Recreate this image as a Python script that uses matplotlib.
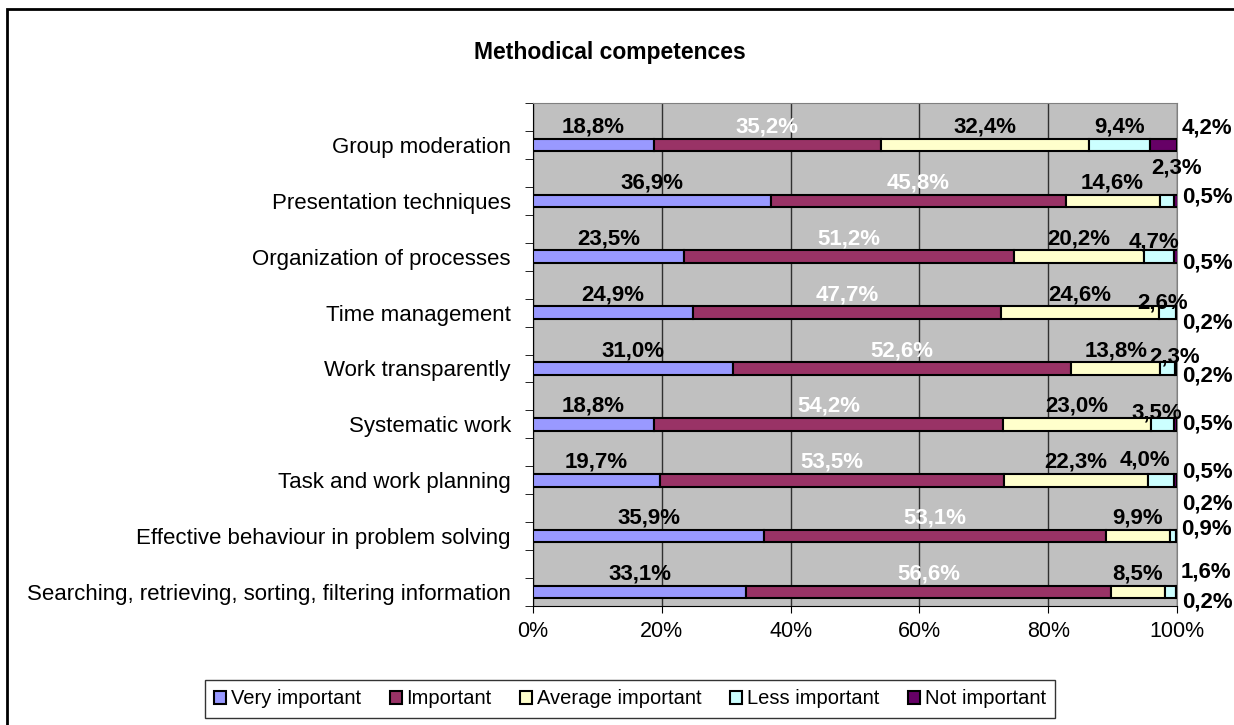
import numpy as np
import matplotlib
matplotlib.use("Agg")
from matplotlib import pyplot as plt
from matplotlib.patches import Rectangle, Patch

plt.rcParams['font.family'] = ['Liberation Sans', 'DejaVu Sans']

#data (percent of answers), rows from top to bottom
categories = ['Group moderation', 'Presentation techniques', 'Organization of processes',
              'Time management', 'Work transparently', 'Systematic work',
              'Task and work planning', 'Effective behaviour in problem solving',
              'Searching, retrieving, sorting, filtering information']
series = ['Very important', 'Important', 'Average important', 'Less important', 'Not important']
very_important = [18.8, 36.9, 23.5, 24.9, 31.0, 18.8, 19.7, 35.9, 33.1]
important = [35.2, 45.8, 51.2, 47.7, 52.6, 54.2, 53.5, 53.1, 56.6]
average_important = [32.4, 14.6, 20.2, 24.6, 13.8, 23.0, 22.3, 9.9, 8.5]
less_important = [9.4, 2.3, 4.7, 2.6, 2.3, 3.5, 4.0, 0.9, 1.6]
not_important = [4.2, 0.5, 0.5, 0.2, 0.2, 0.5, 0.5, 0.2, 0.2]
xticks = [0, 20, 40, 60, 80, 100]

colors = ['#9999FF', '#993366', '#FFFFCC', '#CCFFFF', '#660066']
label_colors = ['black', 'white', 'black', 'black', 'black']

#where the small labels were dragged to in the sheet (x in %, y offset in rows above bar)
less_x = [None, 100, 96.5, 97.8, 99.6, 96.8, 95, 104.5, 104.5]
less_dy = [0.32, 0.58, 0.26, 0.17, 0.2, 0.2, 0.36, 0.12, 0.36]
not_dy = [0.31, 0.06, -0.11, -0.18, -0.13, 0.0, 0.14, 0.58, -0.18]

values = np.array([very_important, important, average_important, less_important, not_important])
n = len(categories)
ypos = np.arange(n)[::-1].astype(float)   # bar centres, top row highest

fig = plt.figure(figsize=(12.34, 7.25), dpi=100)
ax = fig.add_axes([533/1234, 1-606/725, 644/1234, 503/725])
ax.set_facecolor('#C0C0C0')

left = np.zeros(n)
for j in range(len(series)):
    ax.barh(ypos, values[j], left=left, height=0.225, color=colors[j],
            edgecolor='black', linewidth=1.5, label=series[j], zorder=3)
    for i in range(n):
        v = values[j][i]
        centre = left[i] + v/2
        txt = ('%.1f%%' % v).replace('.', ',')
        if j < 3:
            x, y = centre, ypos[i] + 0.32
        elif j == 3:
            x = centre if less_x[i] is None else less_x[i]
            y = ypos[i] + less_dy[i]
        else:
            x, y = 104.7, ypos[i] + not_dy[i]
        ax.text(x, y, txt, ha='center', va='center', fontsize=16, fontweight='bold',
                color=label_colors[j], clip_on=False, zorder=4)
    left = left + values[j]

ax.set_xlim(0, 100)
ax.set_ylim(-0.25, n - 0.25)
ax.set_xticks(xticks)
ax.set_xticklabels(['%d%%' % t for t in xticks], fontsize=15.5)
ax.tick_params(axis='x', direction='out', length=5, pad=6, color='black')
ax.xaxis.grid(True, color='#303030', linewidth=1, zorder=1)
ax.set_axisbelow(True)

ax.set_yticks(ypos)
ax.set_yticklabels(categories, fontsize=16)
ax.tick_params(axis='y', which='major', length=0, pad=16)
ax.set_yticks(np.arange(-0.25, n, 0.5), minor=True)
ax.tick_params(axis='y', which='minor', direction='out', length=6, color='black')

for s in ['top', 'right']:
    ax.spines[s].set_color('#808080')
for s in ['left', 'bottom']:
    ax.spines[s].set_color('black')

fig.text(610/1234, 1-52/725, 'Methodical competences', ha='center', va='center',
         fontsize=16.5, fontweight='bold')

handles = [Patch(facecolor=c, edgecolor='black', linewidth=1.5) for c in colors]
leg = fig.legend(handles, series, loc='center', bbox_to_anchor=(630/1234, 1-699/725),
                 ncol=5, fontsize=14.5, frameon=True, fancybox=False, edgecolor='black',
                 handlelength=0.6, handleheight=0.6, handletextpad=0.25,
                 columnspacing=1.4, borderpad=0.45)
leg.get_frame().set_linewidth(1)

#outer chart border
fig.patches.append(Rectangle((7/1234, -0.1), 1.5, 1 - 9/725 + 0.1, transform=fig.transFigure,
                             fill=False, edgecolor='black', linewidth=2))

fig.savefig('out.png', dpi=100)
